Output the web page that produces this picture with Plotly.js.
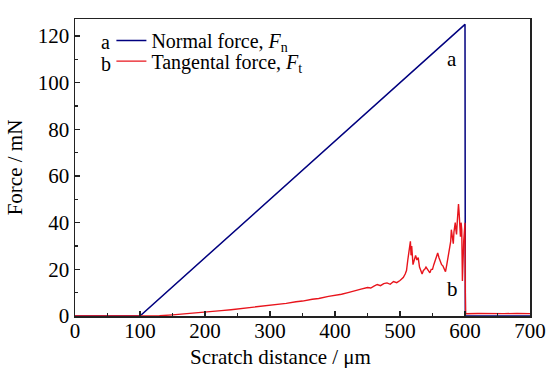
<!DOCTYPE html>
<html><head><meta charset="utf-8">
<script src="https://cdn.plot.ly/plotly-3.0.1.min.js"></script>
<style>html,body{margin:0;padding:0;background:#fff}</style>
</head><body>
<div id="chart" style="width:555px;height:368px"></div>
<script>
const normalX = [0, 100, 600, 600.5, 700];
const normalY = [0, 0, 125, 0, 0];

const tangX = [0, 50, 100, 130, 150, 175, 200, 215, 225, 240, 250, 265, 275, 290, 300, 315, 325, 340, 350, 365, 375, 390, 400, 410, 420, 430, 440, 450, 455, 460, 465, 470, 475, 480, 485, 490, 495, 500, 505, 508, 510, 512, 514, 516, 517, 518, 520, 522, 524, 526, 528, 530, 532, 534, 536, 538, 540, 542, 544, 546, 548, 550, 552, 554, 556, 558, 560, 562, 564, 566, 568, 570, 572, 574, 576, 578, 579, 580, 581, 582, 583, 584, 585, 586, 587, 588, 589, 590, 591, 592, 593, 594, 595, 596, 597, 598, 599, 600, 600.5, 601, 620, 640, 660, 680, 700];
const tangY = [0, 0, 0, 0.1, 0.5, 1.0, 1.6, 1.9, 2.3, 2.7, 3.0, 3.5, 3.7, 4.3, 4.5, 5.1, 5.4, 6.1, 6.4, 7.2, 7.5, 8.4, 8.8, 9.3, 10.0, 10.6, 11.5, 12.2, 12.0, 12.8, 13.5, 13.0, 13.9, 14.2, 13.6, 14.8, 14.3, 15.2, 16.5, 18.0, 19.5, 24, 28, 32, 26, 30, 22, 24, 26, 24, 25, 21, 19, 18, 19.5, 20, 21, 20, 19, 18.5, 20, 20, 22, 24, 25, 27, 25, 23, 22, 21.5, 20, 19, 22, 26, 29, 32, 37, 35, 33, 31, 36, 38, 40, 37, 35, 40, 45, 48, 44, 36, 34, 40, 37, 15, 28, 32, 36, 40, 10, 1, 1.1, 0.9, 1.0, 1.1, 1.0];

const xTicks = [0, 100, 200, 300, 400, 500, 600, 700];
const yTicks = [0, 20, 40, 60, 80, 100, 120];

const serif = 'Liberation Serif';

const traces = [
  {x: normalX, y: normalY, mode: 'lines', name: 'Normal force, <i>F</i><sub>n</sub>',
   line: {color: '#00007f', width: 1.5}, legend: 'legend'},
  {x: tangX, y: tangY, mode: 'lines', name: 'Tangental force, <i>F</i><sub>t</sub>',
   line: {color: '#e8141c', width: 1.4}, legend: 'legend2'}
];

const axisCommon = {
  showgrid: false, zeroline: false, showline: true, mirror: true,
  linecolor: '#222', linewidth: 1.5, ticks: 'inside', ticklen: 5, tickwidth: 1.2, tickcolor: '#222',
  tickfont: {family: serif, size: 21, color: '#000'}
};

const legendCommon = {xanchor: 'left', yanchor: 'middle', bgcolor: 'rgba(0,0,0,0)',
  font: {family: serif, size: 20, color: '#000'}};

const layout = {
  width: 555, height: 368,
  margin: {l: 75, r: 25, t: 19, b: 52},
  paper_bgcolor: '#fff', plot_bgcolor: '#fff',
  font: {family: serif, color: '#000'},
  xaxis: Object.assign({}, axisCommon, {
    range: [0, 700], tickvals: xTicks, ticklabelstandoff: -5,
    minor: {dtick: 50, ticks: 'inside', ticklen: 3, tickcolor: '#222'}
  }),
  yaxis: Object.assign({}, axisCommon, {
    range: [0, 127.3], tickvals: yTicks,
    minor: {dtick: 10, ticks: 'inside', ticklen: 3, tickcolor: '#222'},
    title: {text: 'Force / mN', font: {family: serif, size: 21}, standoff: 9}
  }),
  showlegend: true,
  legend: Object.assign({}, legendCommon, {x: 0.08, y: 0.928}),
  legend2: Object.assign({}, legendCommon, {x: 0.08, y: 0.858}),
  annotations: [
    {xref: 'paper', yref: 'paper', x: 0.068, y: 0.924, xanchor: 'center', yanchor: 'middle', text: 'a', showarrow: false, font: {family: serif, size: 20}},
    {xref: 'paper', yref: 'paper', x: 0.068, y: 0.850, xanchor: 'center', yanchor: 'middle', text: 'b', showarrow: false, font: {family: serif, size: 20}},
    {xref: 'x', yref: 'y', x: 580, y: 110, text: 'a', showarrow: false, font: {family: serif, size: 21}},
    {xref: 'x', yref: 'y', x: 580, y: 11.6, text: 'b', showarrow: false, font: {family: serif, size: 21}},
    {xref: 'paper', yref: 'paper', x: 0.451, y: -0.138, xanchor: 'center', yanchor: 'middle', text: 'Scratch distance / μm', showarrow: false, font: {family: serif, size: 21}}
  ]
};

Plotly.newPlot('chart', traces, layout, {displayModeBar: false, staticPlot: true});
</script>
</body></html>
